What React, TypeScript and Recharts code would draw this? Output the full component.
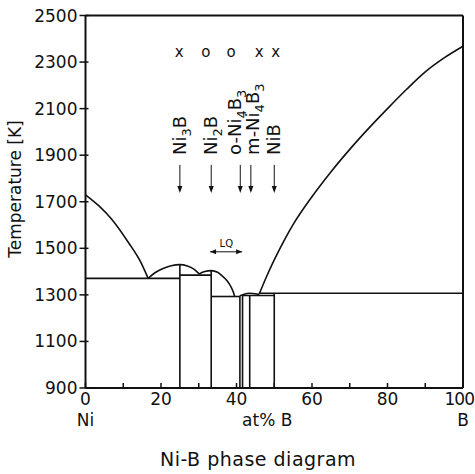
import React from 'react';
import {
  ComposedChart,
  Line,
  Scatter,
  XAxis,
  YAxis,
  ReferenceLine,
} from 'recharts';

// Liquidus and dome curves (x = at% B, y = temperature in K)
const niLiquidus = [
  { x: 0, y: 1730 }, { x: 3.5, y: 1683 }, { x: 7.1, y: 1622 },
  { x: 11.5, y: 1522 }, { x: 14.6, y: 1442 }, { x: 16.6, y: 1371 },
];
const ni3bDome = [
  { x: 16.6, y: 1371 }, { x: 18.5, y: 1396 }, { x: 20.4, y: 1412 }, { x: 22.7, y: 1425 },
  { x: 25, y: 1430 }, { x: 27, y: 1424 }, { x: 28.8, y: 1410 }, { x: 30.1, y: 1390 },
];
const ni2bDome = [
  { x: 30.1, y: 1390 }, { x: 31.6, y: 1400 }, { x: 33.3, y: 1404 }, { x: 35, y: 1397 },
  { x: 36.3, y: 1380 }, { x: 37.5, y: 1361 }, { x: 38.5, y: 1336 }, { x: 39.2, y: 1310 },
  { x: 39.5, y: 1294 },
];
const ni4b3Dome = [
  { x: 40.9, y: 1296 }, { x: 42, y: 1303 }, { x: 43.5, y: 1307 }, { x: 45, y: 1305 }, { x: 46, y: 1301 },
];
const bLiquidus = [
  { x: 46, y: 1303 }, { x: 48, y: 1380 }, { x: 50, y: 1450 }, { x: 52.5, y: 1530 },
  { x: 55.3, y: 1610 }, { x: 59.7, y: 1715 }, { x: 65, y: 1828 }, { x: 70, y: 1925 },
  { x: 75, y: 2015 }, { x: 80, y: 2100 }, { x: 85, y: 2182 }, { x: 90, y: 2258 },
  { x: 95, y: 2318 }, { x: 100, y: 2368 },
];

// straight phase boundaries
const phaseLines = [
  [{ x: 0, y: 1371 }, { x: 25, y: 1371 }],
  [{ x: 25, y: 900 }, { x: 25, y: 1430 }],
  [{ x: 25, y: 1385 }, { x: 33.3, y: 1385 }],
  [{ x: 33.3, y: 900 }, { x: 33.3, y: 1404 }],
  [{ x: 33.3, y: 1293 }, { x: 40.9, y: 1293 }],
  [{ x: 40.9, y: 900 }, { x: 40.9, y: 1296 }],
  [{ x: 41.6, y: 900 }, { x: 41.6, y: 1300 }],
  [{ x: 43.5, y: 900 }, { x: 43.5, y: 1298 }],
  [{ x: 41.6, y: 1297 }, { x: 50, y: 1297 }],
  [{ x: 50, y: 900 }, { x: 50, y: 1307 }],
  [{ x: 46, y: 1307 }, { x: 100, y: 1307 }],
];

// compounds: arrow tip position + label (_ marks a subscript char)
const compounds = [
  { x: 25, y: 1738, label: 'Ni_3B' },
  { x: 33.3, y: 1738, label: 'Ni_2B' },
  { x: 41, y: 1738, label: 'o-Ni_4B_3' },
  { x: 43.8, y: 1738, label: 'm-Ni_4B_3' },
  { x: 50, y: 1738, label: 'NiB' },
];
const labelShift: Record<string, number> = { 'o-Ni_4B_3': -5, 'm-Ni_4B_3': 2 };

const crystalMarks = [
  { x: 24.8, y: 2344, sym: 'x' },
  { x: 31.9, y: 2344, sym: 'o' },
  { x: 38.6, y: 2344, sym: 'o' },
  { x: 46.0, y: 2344, sym: 'x' },
  { x: 50.4, y: 2344, sym: 'x' },
];

const lqArrow = [{ x: 33, y: 1485 }, { x: 41.5, y: 1485 }];
const lqNote = [{ x: 37.3, y: 1519, text: 'LQ' }];

const yTicks = [900, 1100, 1300, 1500, 1700, 1900, 2100, 2300, 2500];
const xTicks = [0, 10, 20, 30, 40, 50, 60, 70, 80, 90, 100];

const FONT = 'DejaVu Sans, sans-serif';
const INK = '#111';

const YTick = (props: any) => {
  const { x, y, payload } = props;
  return (
    <g>
      <line x1={x - 6} x2={x + 3} y1={y} y2={y} stroke={INK} strokeWidth={1.5} />
      <text x={x - 8} y={y} textAnchor="end" dominantBaseline="central" fontFamily={FONT} fontSize={17} fill={INK}>
        {payload.value}
      </text>
    </g>
  );
};

const XTick = (props: any) => {
  const { x, y, payload } = props;
  const v = payload.value;
  const last = v === 100;
  return (
    <g>
      <line x1={x} x2={x} y1={y} y2={y - 5} stroke={INK} strokeWidth={1.5} />
      {v % 20 === 0 && (
        <text
          x={last ? x + 11 : x}
          y={y + 11}
          textAnchor={last ? 'end' : 'middle'}
          dominantBaseline="central"
          fontFamily={FONT}
          fontSize={17}
          letterSpacing={last ? -1 : 0}
          fill={INK}
        >
          {v}
        </text>
      )}
      {v === 0 && (
        <text x={x} y={y + 32} textAnchor="middle" dominantBaseline="central" fontFamily={FONT} fontSize={17} fill={INK}>Ni</text>
      )}
      {v === 50 && (
        <text x={x - 7} y={y + 32} textAnchor="middle" dominantBaseline="central" fontFamily={FONT} fontSize={17} fill={INK}>at% B</text>
      )}
      {last && (
        <text x={x} y={y + 32} textAnchor="middle" dominantBaseline="central" fontFamily={FONT} fontSize={17} fill={INK}>B</text>
      )}
    </g>
  );
};

const renderLabel = (label: string) => {
  const parts: React.ReactNode[] = [];
  let sub = false;
  let i = 0;
  let k = 0;
  while (i < label.length) {
    if (label[i] === '_') {
      parts.push(<tspan key={k++} dy={5} fontSize={13}>{label[i + 1]}</tspan>);
      sub = true;
      i += 2;
    } else {
      let j = i;
      while (j < label.length && label[j] !== '_') j++;
      parts.push(<tspan key={k++} dy={sub ? -5 : 0}>{label.slice(i, j)}</tspan>);
      sub = false;
      i = j;
    }
  }
  return parts;
};

const CompoundShape = (props: any) => {
  const { cx, cy, payload } = props;
  const tx = cx + 6 + (labelShift[payload.label] || 0);
  const ty = cy - 38;
  return (
    <g>
      <line x1={cx} x2={cx} y1={cy - 28} y2={cy - 6} stroke={INK} strokeWidth={1} />
      <polygon points={`${cx - 2.5},${cy - 7} ${cx + 2.5},${cy - 7} ${cx},${cy}`} fill={INK} />
      <text x={tx} y={ty} transform={`rotate(-90 ${tx} ${ty})`} fontFamily={FONT} fontSize={18} fill={INK}>
        {renderLabel(payload.label)}
      </text>
    </g>
  );
};

const MarkShape = (props: any) => {
  const { cx, cy, payload } = props;
  return (
    <text x={cx} y={cy} textAnchor="middle" dominantBaseline="central" fontFamily={FONT} fontSize={15} fill={INK}>
      {payload.sym}
    </text>
  );
};

const NoteShape = (props: any) => {
  const { cx, cy, payload } = props;
  return (
    <text x={cx} y={cy} textAnchor="middle" dominantBaseline="central" fontFamily={FONT} fontSize={10} fill={INK}>
      {payload.text}
    </text>
  );
};

const ArrowEnd = (props: any) => {
  const { cx, cy, index } = props;
  const d = index === 0 ? -1 : 1;
  return (
    <polygon
      key={`ae-${index}`}
      points={`${cx},${cy} ${cx - d * 6},${cy - 2.5} ${cx - d * 6},${cy + 2.5}`}
      fill={INK}
    />
  );
};

const curve = (data: { x: number; y: number }[], key: string) => (
  <Line
    key={key}
    data={data}
    dataKey="y"
    type="monotone"
    stroke={INK}
    strokeWidth={1.6}
    dot={false}
    isAnimationActive={false}
  />
);

export default function App() {
  return (
    <div style={{ position: 'absolute', left: 0, top: 0, width: 475, height: 474, background: '#fff' }}>
      <ComposedChart width={475} height={474} margin={{ top: 15.5, right: 12, bottom: 56, left: 25.5 }}>
        <XAxis
          type="number"
          dataKey="x"
          domain={[0, 100]}
          ticks={xTicks}
          interval={0}
          height={30}
          tickSize={0}
          tickMargin={0}
          tickLine={false}
          tick={<XTick />}
          axisLine={{ stroke: INK, strokeWidth: 2 }}
        />
        <YAxis
          type="number"
          domain={[900, 2500]}
          ticks={yTicks}
          interval={0}
          width={60}
          tickSize={0}
          tickMargin={0}
          tickLine={false}
          tick={<YTick />}
          axisLine={{ stroke: INK, strokeWidth: 2 }}
          label={{
            content: () => (
              <text x={21} y={189} transform="rotate(-90 21 189)" textAnchor="middle" fontFamily={FONT} fontSize={17} fill={INK}>
                Temperature [K]
              </text>
            ),
          }}
        />
        <ReferenceLine y={2500} stroke={INK} strokeWidth={2} ifOverflow="visible" />
        <ReferenceLine x={100} stroke={INK} strokeWidth={2} ifOverflow="visible" />

        {curve(niLiquidus, 'niLiq')}
        {curve(ni3bDome, 'ni3b')}
        {curve(ni2bDome, 'ni2b')}
        {curve(ni4b3Dome, 'ni4b3')}
        {curve(bLiquidus, 'bLiq')}
        {phaseLines.map((seg, i) => (
          <Line
            key={`pl-${i}`}
            data={seg}
            dataKey="y"
            type="linear"
            stroke={INK}
            strokeWidth={1.6}
            dot={false}
            isAnimationActive={false}
          />
        ))}
        <Line
          data={lqArrow}
          dataKey="y"
          type="linear"
          stroke={INK}
          strokeWidth={1}
          dot={ArrowEnd}
          isAnimationActive={false}
        />
        <Scatter data={lqNote} dataKey="y" shape={NoteShape} isAnimationActive={false} />
        <Scatter data={compounds} dataKey="y" shape={CompoundShape} isAnimationActive={false} />
        <Scatter data={crystalMarks} dataKey="y" shape={MarkShape} isAnimationActive={false} />
      </ComposedChart>
      <div
        style={{
          position: 'absolute',
          left: 0,
          top: 448,
          width: 516,
          textAlign: 'center',
          fontFamily: FONT,
          fontSize: 19,
          color: INK,
          letterSpacing: 0.5,
        }}
      >
        Ni-B phase diagram
      </div>
    </div>
  );
}
